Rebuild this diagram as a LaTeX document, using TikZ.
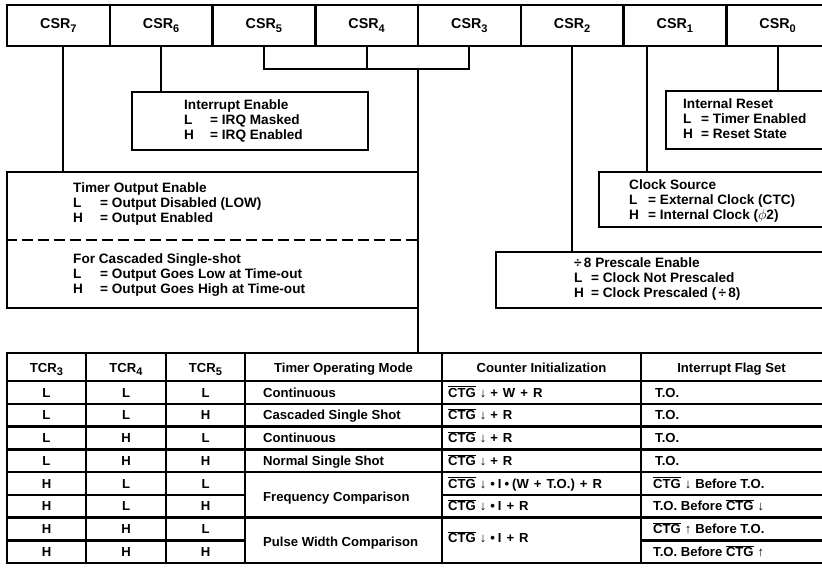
\documentclass[tikz,border=0pt]{standalone}
\usepackage{fontspec}
\setmainfont{Liberation Sans}
\usetikzlibrary{fit}
\newcommand\sbs[1]{\raisebox{-0.45ex}{\fontsize{11bp}{11bp}\selectfont #1}}
\newcommand\ctg{$\overline{\hbox{CTG}}$}
\newcommand\dn{\hspace{4bp}{\fontsize{13bp}{13bp}\selectfont\mdseries ↓}\hspace{4bp}}
\newcommand\up{\hspace{4bp}{\fontsize{13bp}{13bp}\selectfont\mdseries ↑}\hspace{4bp}}
\newcommand\bul{\hspace{3bp}•\hspace{3bp}}
\newcommand\pl{\hspace{5bp}+\hspace{5bp}}
\begin{document}
\begin{tikzpicture}[x=1bp,y=-1bp,line join=miter,
  every node/.style={font=\fontsize{13.6bp}{15bp}\selectfont\bfseries},
  cellst/.style={draw,line width=2.5bp,minimum width=102.75bp,minimum height=41bp,inner sep=0,
    font=\fontsize{14.3bp}{15bp}\selectfont\bfseries},
  boxst/.style={draw,line width=2.8bp,inner sep=0},
  tblbox/.style={draw,line width=2.5bp,inner sep=0},
  conn/.style={line width=2bp},
  grid/.style={line width=2.5bp},
  txt/.style={anchor=base west,inner sep=0},
  tcell/.style={inner sep=0,text height=9.4bp,text depth=0bp,font=\fontsize{13.1bp}{15bp}\selectfont\bfseries},
  tleft/.style={tcell,anchor=west}]
\clip (0,0) rectangle (822,576);
% top register row
\foreach \i/\n in {0/7,1/6,2/5,3/4,4/3,5/2,6/1,7/0}
  \node[cellst] (csr\n) at ({7+102.75*\i+51.375},25.5) {CSR\sbs{\n}};
% description boxes
\node[boxst,fit={(132,92)(368,150)}] (ie) {};
\node[boxst,fit={(7,172)(418,308)}] (toe) {};
\node[boxst,fit={(666,91)(840,149)}] (ir) {};
\node[boxst,fit={(599,172)(840,227)}] (cs) {};
\node[boxst,fit={(496,252)(840,308)}] (ps) {};
\draw[line width=2.8bp,dash pattern=on 11bp off 5bp] (toe.west |- 0,240) -- (toe.east |- 0,240);
% box texts
\node[txt] (ietxt) at (184,110) {\begin{tabular}[t]{@{}p{26bp}@{}l@{}}\multicolumn{2}{@{}l@{}}{Interrupt Enable}\\L&= IRQ Masked\\H&= IRQ Enabled\end{tabular}};
\node[txt] (toetxt) at (73,193) {\begin{tabular}[t]{@{}p{27bp}@{}l@{}}\multicolumn{2}{@{}l@{}}{Timer Output Enable}\\L&= Output Disabled (LOW)\\H&= Output Enabled\end{tabular}};
\node[txt] (csstxt) at (73,263) {\begin{tabular}[t]{@{}p{27bp}@{}l@{}}\multicolumn{2}{@{}l@{}}{For Cascaded Single-shot}\\L&= Output Goes Low at Time-out\\H&= Output Goes High at Time-out\end{tabular}};
\node[txt] (irtxt) at (683,109) {\begin{tabular}[t]{@{}p{18bp}@{}l@{}}\multicolumn{2}{@{}l@{}}{Internal Reset}\\L&= Timer Enabled\\H&= Reset State\end{tabular}};
\node[txt] (cstxt) at (629,190) {\begin{tabular}[t]{@{}p{19bp}@{}l@{}}\multicolumn{2}{@{}l@{}}{Clock Source}\\L&= External Clock (CTC)\\H&= Internal Clock ($\phi$2)\end{tabular}};
\node[txt] (pstxt) at (574,267) {\begin{tabular}[t]{@{}p{17bp}@{}l@{}}\multicolumn{2}{@{}l@{}}{÷\,8 Prescale Enable}\\L&= Clock Not Prescaled\\H&= Clock Prescaled (\,÷\,8)\end{tabular}};
% table
\node[tblbox,fit={(7,353)(840,563)}] (tab) {};
\foreach \x in {86,166,245,442,641} \draw[grid] (\x,353) -- (\x,563);
\foreach \y in {381,403.75,426.5,449.25,472,494.75,517.5,540.25} \draw[grid] (7,\y) -- (245,\y);
\foreach \y in {381,403.75,426.5,449.25,472,517.5} \draw[grid] (245,\y) -- (442,\y);
\foreach \y in {381,403.75,426.5,449.25,472,494.75,517.5} \draw[grid] (442,\y) -- (641,\y);
\foreach \y in {381,403.75,426.5,449.25,472,494.75,517.5,540.25} \draw[grid] (641,\y) -- (840,\y);
% header
\node[tcell] (h1) at (46.5,368) {TCR\sbs{3}};
\node[tcell] (h2) at (126,368) {TCR\sbs{4}};
\node[tcell] (h3) at (205.5,368) {TCR\sbs{5}};
\node[tcell] (h4) at (343.5,368) {Timer Operating Mode};
\node[tcell] (h5) at (541.5,368) {Counter Initialization};
\node[tcell] (h6) at (731.5,368) {Interrupt Flag Set};
% bit columns
\foreach \r/\a/\b/\c in {1/L/L/L,2/L/L/H,3/L/H/L,4/L/H/H,5/H/L/L,6/H/L/H,7/H/H/L,8/H/H/H}{
  \node[tcell] (ra\r) at (46.5,{381+22.75*(\r-0.5)}) {\a};
  \node[tcell] (rb\r) at (126,{381+22.75*(\r-0.5)}) {\b};
  \node[tcell] (rc\r) at (205.5,{381+22.75*(\r-0.5)}) {\c};
}
% modes
\node[tleft] (m1) at (263,392.4) {Continuous};
\node[tleft] (m2) at (263,415.1) {Cascaded Single Shot};
\node[tleft] (m3) at (263,437.9) {Continuous};
\node[tleft] (m4) at (263,460.6) {Normal Single Shot};
\node[tleft] (m5) at (263,496.5) {Frequency Comparison};
\node[tleft] (m7) at (263,542) {Pulse Width Comparison};
% counter init
\node[tleft] (c1) at (448,392.4) {\ctg\dn+\hspace{5bp}W\pl R};
\node[tleft] (c2) at (448,415.1) {\ctg\dn+\hspace{5bp}R};
\node[tleft] (c3) at (448,437.9) {\ctg\dn+\hspace{5bp}R};
\node[tleft] (c4) at (448,460.6) {\ctg\dn+\hspace{5bp}R};
\node[tleft] (c5) at (448,483.4) {\ctg\dn•\hspace{3bp}I\bul(W\pl T.O.)\pl R};
\node[tleft] (c6) at (448,506.1) {\ctg\dn•\hspace{3bp}I\pl R};
\node[tleft] (c7) at (448,538) {\ctg\dn•\hspace{3bp}I\pl R};
% interrupt flag
\node[tleft] (f1) at (655,392.4) {T.O.};
\node[tleft] (f2) at (655,415.1) {T.O.};
\node[tleft] (f3) at (655,437.9) {T.O.};
\node[tleft] (f4) at (655,460.6) {T.O.};
\node[tleft] (f5) at (653,483.4) {\ctg\dn Before T.O.};
\node[tleft] (f6) at (653,506.1) {T.O. Before \ctg\dn};
\node[tleft] (f7) at (653,528.9) {\ctg\up Before T.O.};
\node[tleft] (f8) at (653,551.6) {T.O. Before \ctg\up};
% connectors
\coordinate (x7) at (63,0);
\coordinate (x1) at (647,0);
\coordinate (brk) at (0,69);
\coordinate (drop) at (418,69);
\draw[conn] (csr7.south -| x7) -- (toe.north -| x7);
\draw[conn] (csr6.south) -- (csr6.south |- ie.north);
\draw[conn] (csr0.south) -- (csr0.south |- ir.north);
\draw[conn] (csr1.south -| x1) -- (cs.north -| x1);
\draw[conn] (csr2.south) -- (csr2.south |- ps.north);
\draw[conn] (csr5.south) -- (csr5.south |- brk) -| (csr3.south);
\draw[conn] (csr4.south) -- (csr4.south |- brk);
\draw[conn] (drop) -- (drop |- tab.north);
\end{tikzpicture}
\end{document}
